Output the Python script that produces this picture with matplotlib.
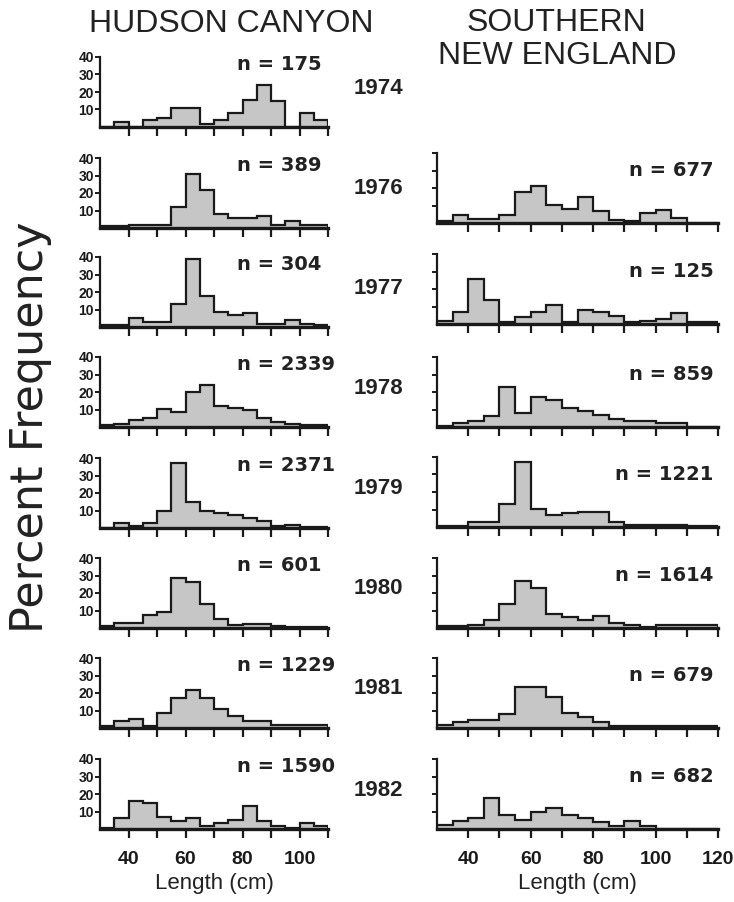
import numpy as np
import matplotlib
matplotlib.use('Agg')
import matplotlib.pyplot as plt

plt.rcParams['font.family'] = ['Liberation Sans', 'DejaVu Sans']

# Percent frequency per 5 cm length class
left_edges = np.arange(30, 111, 5)    # Hudson Canyon, 30-110 cm
right_edges = np.arange(30, 121, 5)   # Southern New England, 30-120 cm

years = ['1974', '1976', '1977', '1978', '1979', '1980', '1981', '1982']

hudson = [
    [0, 3, 0, 4, 5, 11, 11, 2, 4, 8, 15.5, 24, 15, 0, 8, 4],
    [1, 1, 2, 2, 2, 12, 31, 22, 8, 6, 6, 7, 1.5, 4, 2, 2],
    [1, 1, 5, 3, 3, 13, 39, 18, 8.5, 7, 8, 2, 2, 4, 2, 1],
    [1, 2, 4, 5, 10.5, 8.5, 20, 24, 12, 11, 9.5, 5, 3, 2, 1, 1],
    [0, 3, 1, 3, 10, 37, 15, 9.5, 8.5, 7.5, 5.7, 3.8, 1.3, 1.5, 0.5, 0.5],
    [1, 3, 3, 7.5, 9, 28.5, 26.5, 14, 5, 2, 2.5, 2.5, 1, 0.5, 0.5, 0.5],
    [1, 4, 5, 1, 8.5, 17, 22, 17, 11, 6.7, 4, 4, 1.5, 1.5, 1.5, 1.5],
    [0.5, 6.3, 16, 15, 7, 4.4, 6.3, 1.5, 3.5, 5, 13, 4.4, 1.5, 0.5, 3.5, 1.5],
]
hudson_n = ['175', '389', '304', '2339', '2371', '601', '1229', '1590']

# no 1974 sample for Southern New England
sne = [
    None,
    [1, 4.4, 2.5, 2.5, 4.5, 18, 21, 10.5, 8, 15, 6.7, 2, 1, 5.7, 7.6, 3, 0, 0],
    [2, 7, 26, 13.7, 1, 3.8, 6.7, 11, 1, 8, 6.7, 4.8, 1.3, 2, 3, 6.3, 1, 1],
    [0.5, 2.3, 3.2, 6.5, 23, 8, 17, 15.6, 11, 9, 7, 4.6, 3.2, 3.2, 2.3, 2.3, 0, 0],
    [0.5, 0.5, 3, 3, 13, 37, 10.5, 6.7, 8, 8.5, 8.5, 3, 1, 1, 1, 1, 0.5, 0.5],
    [1, 1, 2, 4.8, 14, 27, 23, 8.2, 6.3, 4.4, 7, 2.8, 1.5, 0.6, 2, 2, 2, 2],
    [1.5, 3.4, 4.4, 4.4, 8.2, 23.4, 23.4, 17.7, 8.6, 6.3, 3.4, 1, 1, 1, 1, 1, 1, 1],
    [2.5, 4.4, 6.3, 18, 8.2, 5.3, 10, 12, 8.2, 6.3, 3.8, 1.5, 4.4, 1.5, 0, 0, 0, 0],
]
sne_n = [None, '677', '125', '859', '1221', '1614', '679', '682']

left_ticks = [40, 50, 60, 70, 80, 90, 100, 110]
left_ticklabels = ['40', '', '60', '', '80', '', '100', '']
right_ticks = [40, 50, 60, 70, 80, 90, 100, 110, 120]
right_ticklabels = ['40', '', '60', '', '80', '', '100', '', '120']

W, H = 734, 902
fig = plt.figure(figsize=(W / 100, H / 100), dpi=100)

# baseline of each row, pixels from top
left_base = [127, 228, 327, 427, 528, 628, 728, 829]
right_base = [None, 223, 324, 427, 527, 628, 728, 829]

FILL = '#c6c6c6'
EDGE = '#1a1a1a'
INK = '#222222'


def panel(x0, width, base, values, edges, ticks, ticklabels, show_y, bottom):
    ax = fig.add_axes([x0 / W, (H - base) / H, width / W, 70 / H])
    ax.stairs(values, edges, fill=True, color=FILL)
    ax.stairs(values, edges, color=EDGE, linewidth=1.6)
    ax.set_xlim(edges[0], edges[-1])
    ax.set_ylim(0, 40)
    for s in ['top', 'right']:
        ax.spines[s].set_visible(False)
    ax.spines['left'].set_linewidth(1.6)
    ax.spines['bottom'].set_linewidth(2.4)
    ax.spines['left'].set_color(EDGE)
    ax.spines['bottom'].set_color(EDGE)
    ax.set_xticks(ticks)
    ax.set_yticks([10, 20, 30, 40])
    ax.tick_params(axis='x', direction='out', length=6.5, width=1.6, pad=9,
                   colors=EDGE, labelsize=14)
    ax.tick_params(axis='y', direction='out', length=3.5, width=1.4, pad=1,
                   colors=EDGE, labelsize=10)
    if bottom:
        ax.set_xticklabels(ticklabels, fontweight='bold')
        ax.set_xlabel('Length (cm)', fontsize=16, labelpad=4, color=INK)
    else:
        ax.set_xticklabels([])
    if show_y:
        ax.set_yticklabels(['10', '20', '30', '40'], fontweight='bold')
    else:
        ax.set_yticklabels([])
    ax.patch.set_alpha(0)
    return ax


for i, yr in enumerate(years):
    last = i == len(years) - 1
    ax = panel(100, 228, left_base[i], hudson[i], left_edges, left_ticks,
               left_ticklabels, True, last)
    ax.text(78, 35.5, 'n = ' + hudson_n[i], ha='left', va='center',
            fontsize=14, fontweight='bold', family='DejaVu Sans', color=INK)
    fig.text(378 / W, 1 - (left_base[i] - 39) / H, yr, ha='center', va='center',
             fontsize=16, fontweight='bold', color=INK)
    if sne[i] is not None:
        ax = panel(437, 281, right_base[i], sne[i], right_edges, right_ticks,
                   right_ticklabels, False, last)
        ax.text(118.5, 30, 'n = ' + sne_n[i], ha='right', va='center',
                fontsize=14, fontweight='bold', family='DejaVu Sans', color=INK)

fig.text(231 / W, 1 - 24 / H, 'HUDSON CANYON', ha='center', va='center',
         fontsize=23, color=INK)
fig.text(556 / W, 1 - 23 / H, 'SOUTHERN', ha='center', va='center',
         fontsize=23, color=INK)
fig.text(557 / W, 1 - 56 / H, 'NEW ENGLAND', ha='center', va='center',
         fontsize=23, color=INK)
fig.text(31 / W, 1 - 427 / H, 'Percent Frequency', rotation=90, ha='center',
         va='center', fontsize=32, family='DejaVu Sans', color=INK)

fig.savefig('out.png', dpi=100)
